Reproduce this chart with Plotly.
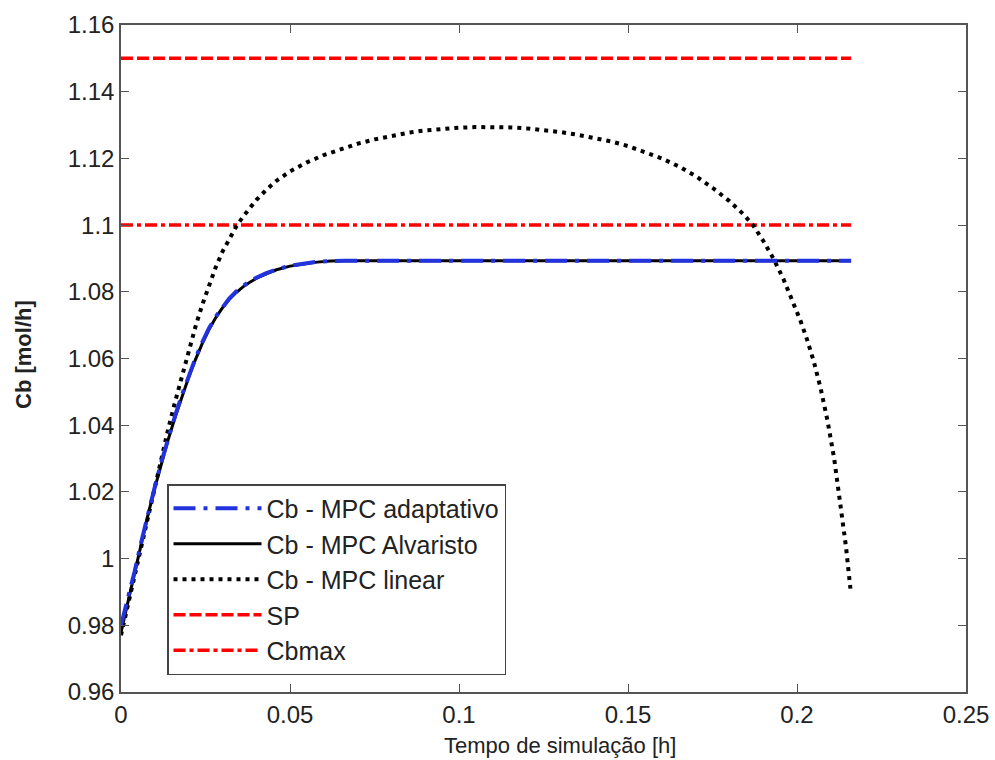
import plotly.graph_objects as go

# MPC linear (dotted)
t_lin = [0.000, 0.002, 0.004, 0.006, 0.008, 0.010, 0.012, 0.014, 0.016, 0.018,
         0.020, 0.022, 0.024, 0.026, 0.028, 0.030, 0.032, 0.034, 0.036, 0.038,
         0.040, 0.043, 0.046, 0.050, 0.055, 0.060, 0.065, 0.070, 0.075, 0.080,
         0.085, 0.090, 0.095, 0.100, 0.105, 0.110, 0.115, 0.120, 0.125, 0.130,
         0.135, 0.140, 0.145, 0.150, 0.155, 0.160, 0.165, 0.170, 0.175, 0.180,
         0.184, 0.187, 0.190, 0.193, 0.196, 0.199, 0.201, 0.203, 0.205, 0.207,
         0.209, 0.211, 0.213, 0.2145, 0.2158]
y_lin = [0.9770, 0.9860, 0.9950, 1.0040, 1.0130, 1.0219, 1.0306, 1.0390, 1.0470, 1.0548,
         1.0623, 1.0694, 1.0760, 1.0820, 1.0873, 1.0920, 1.0960, 1.0994, 1.1024, 1.1051,
         1.1075, 1.1106, 1.1133, 1.1161, 1.1188, 1.1210, 1.1228, 1.1244, 1.1257, 1.1268,
         1.1277, 1.1284, 1.1289, 1.1292, 1.1294, 1.1294, 1.1293, 1.1290, 1.1285, 1.1279,
         1.1271, 1.1262, 1.1251, 1.1237, 1.1220, 1.1200, 1.1176, 1.1147, 1.1112, 1.1072,
         1.1034, 1.1000, 1.0953, 1.0900, 1.0838, 1.0766, 1.0714, 1.0656, 1.0590, 1.0510,
         1.0415, 1.0300, 1.0158, 1.0035, 0.9910]

# MPC Alvaristo (solid)
t_alv = [0.000, 0.002, 0.004, 0.006, 0.008, 0.010, 0.012, 0.014, 0.016, 0.018,
         0.020, 0.022, 0.024, 0.026, 0.028, 0.030, 0.032, 0.034, 0.036, 0.038,
         0.040, 0.043, 0.046, 0.050, 0.054, 0.058, 0.062, 0.066, 0.216]
y_alv = [0.9779, 0.9868, 0.9957, 1.0045, 1.0132, 1.0212, 1.0288, 1.0358, 1.0424, 1.0485,
         1.0543, 1.0596, 1.0644, 1.0686, 1.0722, 1.0752, 1.0777, 1.0797, 1.0814, 1.0828,
         1.0840, 1.0854, 1.0866, 1.0877, 1.0884, 1.0889, 1.0892, 1.0893, 1.0893]

# MPC adaptativo (dash-dot)
t_ada = [0.000, 0.002, 0.004, 0.006, 0.008, 0.010, 0.012, 0.014, 0.016, 0.018,
         0.020, 0.022, 0.024, 0.026, 0.028, 0.030, 0.032, 0.034, 0.036, 0.038,
         0.040, 0.043, 0.046, 0.050, 0.054, 0.058, 0.062, 0.066, 0.216]
y_ada = [0.9800, 0.9875, 0.9960, 1.0050, 1.0135, 1.0215, 1.0292, 1.0362, 1.0428, 1.0490,
         1.0547, 1.0600, 1.0648, 1.0690, 1.0725, 1.0755, 1.0780, 1.0800, 1.0817, 1.0830,
         1.0842, 1.0856, 1.0867, 1.0878, 1.0885, 1.0890, 1.0892, 1.0893, 1.0893]

t_ref = [0.0, 0.216]
sp = [1.15, 1.15]
cbmax = [1.10, 1.10]

x_ticks = [0, 0.05, 0.1, 0.15, 0.2, 0.25]
x_labels = ["0", "0.05", "0.1", "0.15", "0.2", "0.25"]
y_ticks = [0.96, 0.98, 1.0, 1.02, 1.04, 1.06, 1.08, 1.1, 1.12, 1.14, 1.16]
y_labels = ["0.96", "0.98", "1", "1.02", "1.04", "1.06", "1.08", "1.1", "1.12", "1.14", "1.16"]

FONT = "Liberation Sans, Arial"
TXT = "#222222"

fig = go.Figure()
fig.add_trace(go.Scatter(x=t_ref, y=sp, mode="lines", name="SP", legendrank=4,
                         line=dict(color="#ff0000", width=3.5, dash="12px,4px")))
fig.add_trace(go.Scatter(x=t_ref, y=cbmax, mode="lines", name="Cbmax", legendrank=5,
                         line=dict(color="#ff0000", width=3.5, dash="12px,4px,4px,4px")))
fig.add_trace(go.Scatter(x=t_lin, y=y_lin, mode="lines", name="Cb - MPC linear", legendrank=3,
                         line=dict(color="black", width=4, dash="4px,5px")))
fig.add_trace(go.Scatter(x=t_alv, y=y_alv, mode="lines", name="Cb - MPC Alvaristo", legendrank=2,
                         line=dict(color="black", width=3)))
fig.add_trace(go.Scatter(x=t_ada, y=y_ada, mode="lines", name="Cb - MPC adaptativo", legendrank=1,
                         line=dict(color="#2233dd", width=4, dash="22px,8px,4px,8px")))

axis_common = dict(showline=True, linecolor="#555555", linewidth=1.5, mirror="ticks",
                   ticks="inside", ticklen=8, tickcolor="#555555", showgrid=False,
                   zeroline=False, automargin=False,
                   tickfont=dict(family=FONT, size=24, color=TXT))

fig.update_xaxes(range=[0, 0.25], tickvals=x_ticks, ticktext=x_labels, **axis_common)
fig.update_yaxes(range=[0.96, 1.16], tickvals=y_ticks, ticktext=y_labels, **axis_common)

fig.add_annotation(text="Tempo de simulação [h]", xref="paper", yref="paper",
                   x=(560 - 121) / 845, y=(692 - 745) / 667, xanchor="center", yanchor="middle",
                   showarrow=False, font=dict(family=FONT, size=22, color=TXT))
fig.add_annotation(text="<b>Cb [mol/h]</b>", xref="paper", yref="paper",
                   x=(24 - 121) / 845, y=(692 - 355) / 667, xanchor="center", yanchor="middle",
                   textangle=-90, showarrow=False, font=dict(family=FONT, size=22, color=TXT))

fig.update_layout(
    width=995, height=760,
    margin=dict(l=121, r=29, t=25, b=68),
    paper_bgcolor="white", plot_bgcolor="white",
    showlegend=True,
    legend=dict(x=(167 - 121) / 845, y=1 - (484 - 25) / 667, xanchor="left", yanchor="top",
                bgcolor="white", bordercolor="#444444", borderwidth=1.5,
                font=dict(family=FONT, size=25, color=TXT), traceorder="normal",
                itemwidth=88),
)

fig.write_html("out.html")
